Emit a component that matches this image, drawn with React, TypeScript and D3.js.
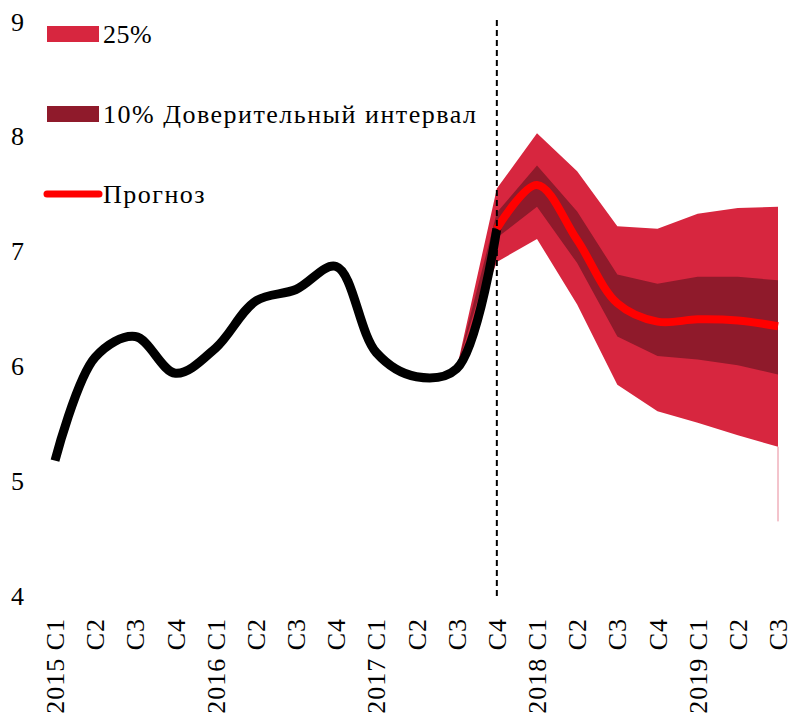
import React from 'react';
import * as d3 from 'd3';

// quarter labels along the x axis
const categories = [
  '2015 C1', 'C2', 'C3', 'C4',
  '2016 C1', 'C2', 'C3', 'C4',
  '2017 C1', 'C2', 'C3', 'C4',
  '2018 C1', 'C2', 'C3', 'C4',
  '2019 C1', 'C2', 'C3',
];
const yTicks = [4, 5, 6, 7, 8, 9];

// actual values, 2015 C1 .. 2017 C4
const actual = [5.18, 6.08, 6.26, 5.94, 6.16, 6.57, 6.67, 6.87, 6.12, 5.91, 5.98, 7.2];
// forecast, 2017 C4 .. 2019 C3
const forecast = [7.2, 7.58, 7.1, 6.55, 6.39, 6.41, 6.4, 6.35];
// fan bands, 2017 C3 .. 2019 C3
const outerUpper = [5.98, 7.55, 8.03, 7.7, 7.22, 7.2, 7.33, 7.38, 7.39];
const innerUpper = [5.98, 7.34, 7.75, 7.35, 6.8, 6.72, 6.78, 6.78, 6.75];
const innerLower = [5.98, 7.12, 7.39, 6.9, 6.26, 6.09, 6.06, 6.01, 5.93];
const outerLower = [5.98, 6.91, 7.11, 6.54, 5.84, 5.61, 5.51, 5.4, 5.3];
const tailValue = 4.65;

const bandStart = 10;
const forecastStart = 11;

const W = 792, H = 717;
const FONT = "'Liberation Serif', 'DejaVu Serif', serif";
const C_OUTER = '#D7263F';
const C_INNER = '#8F1A2B';
const C_RED = '#FF0000';

export default function App() {
  const x = d3.scalePoint<number>()
    .domain(d3.range(categories.length))
    .range([55, 778]);
  const y = d3.scaleLinear().domain([4, 9]).range([596, 22]);

  const smooth = d3.line<number>()
    .x((_, i) => x(i) as number)
    .y(d => y(d))
    .curve(d3.curveCatmullRom.alpha(0.5));

  const forecastLine = d3.line<number>()
    .x((_, i) => x(i + forecastStart) as number)
    .y(d => y(d))
    .curve(d3.curveCatmullRom.alpha(0.5));

  const band = (hi: number[], lo: number[]) =>
    d3.area<number>()
      .x((_, i) => x(i + bandStart) as number)
      .y0((_, i) => y(lo[i]))
      .y1(d => y(d))(hi) as string;

  const lastX = x(categories.length - 1) as number;
  const splitX = x(forecastStart) as number;

  return (
    <svg width={W} height={H} style={{ position: 'absolute', left: 0, top: 0, background: '#fff' }}
      fontFamily={FONT}>
      <path d={band(outerUpper, outerLower)} fill={C_OUTER} />
      <path d={band(innerUpper, innerLower)} fill={C_INNER} />
      <line x1={lastX} x2={lastX} y1={y(outerLower[outerLower.length - 1])} y2={y(tailValue)}
        stroke="#E8899A" strokeWidth={1} />

      <path d={smooth(actual) as string} fill="none" stroke="#000" strokeWidth={9}
        strokeLinejoin="round" />
      <path d={forecastLine(forecast) as string} fill="none" stroke={C_RED} strokeWidth={8}
        strokeLinejoin="round" />

      <line x1={splitX} x2={splitX} y1={20} y2={y(4)} stroke="#000" strokeWidth={2}
        strokeDasharray="6,4" />

      {yTicks.map(t => (
        <text key={t} x={11} y={y(t)} dy="0.33em" fontSize={26} fill="#000">{t}</text>
      ))}

      {categories.map((c, i) => (
        <text key={i} transform={`translate(${(x(i) as number) + 9},618) rotate(-90)`}
          textAnchor="end" fontSize={26} letterSpacing={1} fill="#000">{c}</text>
      ))}

      <g fontSize={26} fill="#000">
        <rect x={47} y={26} width={52} height={16} fill={C_OUTER} />
        <text x={103} y={43} letterSpacing={0.5}>25%</text>
        <rect x={47} y={106} width={52} height={16} fill={C_INNER} />
        <text x={103} y={123} letterSpacing={1.5}>10% Доверительный интервал</text>
        <line x1={47} x2={99} y1={194} y2={194} stroke={C_RED} strokeWidth={7} strokeLinecap="round" />
        <text x={103} y={203} letterSpacing={1.5}>Прогноз</text>
      </g>
    </svg>
  );
}
